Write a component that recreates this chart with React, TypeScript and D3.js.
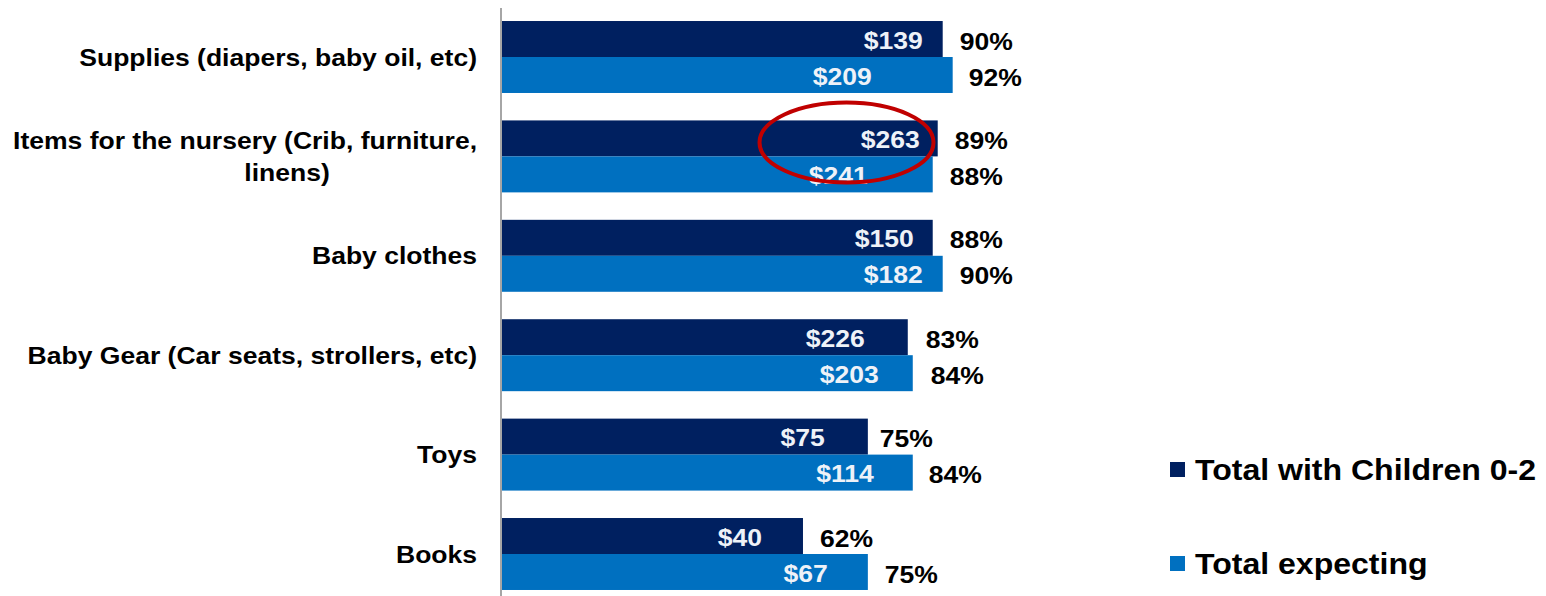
import React from "react";
import * as d3 from "d3";

const categories = [
  ["Supplies (diapers, baby oil, etc)"],
  ["Items for the nursery (Crib, furniture,", "linens)"],
  ["Baby clothes"],
  ["Baby Gear (Car seats, strollers, etc)"],
  ["Toys"],
  ["Books"],
];
const seriesNames = ["Total with Children 0-2", "Total expecting"];
const childrenPct = [90, 89, 88, 83, 75, 62];
const expectingPct = [92, 88, 90, 84, 84, 75];
const childrenSpend = ["$139", "$263", "$150", "$226", "$75", "$40"];
const expectingSpend = ["$209", "$241", "$182", "$203", "$114", "$67"];

// layout tweaks (pixels) for the label placement seen in the reference
const darkInset = [20, 18, 19, 43, 43, 41];
const lightInset = [81, 65, 20, 34, 39, 40];
const darkPctGap = [17, 17, 17, 18, 12, 17];
const lightPctGap = [16, 17, 17, 18, 16, 17];

const W = 1546;
const H = 596;
const DARK = "#002060";
const LIGHT = "#0070C0";
const FONT = "'Liberation Sans', Arial, sans-serif";
const SX = 1.105;

function T(props: {
  x: number;
  y: number;
  anchor: string;
  size: number;
  fill: string;
  children: React.ReactNode;
}) {
  return (
    <text
      transform={`translate(${props.x},${props.y}) scale(${SX},1)`}
      dy="0.355em"
      textAnchor={props.anchor}
      fontWeight="bold"
      fontSize={props.size}
      fill={props.fill}
    >
      {props.children}
    </text>
  );
}

export default function App() {
  const axisX = 501;
  const x = d3.scaleLinear().domain([0, 100]).range([493.6, 992.6]);
  const keys = categories.map((_, i) => String(i));
  const y = d3
    .scaleBand<string>()
    .domain(keys)
    .range([7.3, 603.7])
    .paddingInner(0.276)
    .paddingOuter(0.138);
  const sub = d3.scaleBand<string>().domain(["0", "1"]).range([0, y.bandwidth()]);
  const bh = sub.bandwidth();

  const series = [
    { pct: childrenPct, spend: childrenSpend, color: DARK, inset: darkInset, gap: darkPctGap },
    { pct: expectingPct, spend: expectingSpend, color: LIGHT, inset: lightInset, gap: lightPctGap },
  ];

  return (
    <svg
      width={W}
      height={H}
      style={{ position: "absolute", left: 0, top: 0, background: "#fff" }}
      fontFamily={FONT}
    >
      {keys.map((k, i) => {
        const gy = y(k)!;
        return (
          <g key={k}>
            {series.map((s, si) => {
              const by = gy + sub(String(si))!;
              const xe = x(s.pct[i]);
              return (
                <g key={si}>
                  <rect x={axisX} y={by} width={xe - axisX} height={bh} fill={s.color} />
                  <T x={xe - s.inset[i]} y={by + bh / 2 + 1} anchor="end" size={24} fill="#eef2f8">
                    {s.spend[i]}
                  </T>
                  <T x={xe + s.gap[i]} y={by + bh / 2 + 2} anchor="start" size={24} fill="#000">
                    {s.pct[i] + "%"}
                  </T>
                </g>
              );
            })}
            {categories[i].map((line, li) => {
              const n = categories[i].length;
              const cy = gy + y.bandwidth() / 2 + (li - (n - 1) / 2) * 32;
              const second = n > 1 && li === 1;
              return (
                <T key={li} x={second ? 287 : 477} y={cy} anchor={second ? "middle" : "end"} size={24} fill="#000">
                  {line}
                </T>
              );
            })}
          </g>
        );
      })}
      <line x1={axisX} x2={axisX} y1={8} y2={596} stroke="#a6a6a6" strokeWidth={2} />
      <ellipse cx={846.5} cy={142.5} rx={87} ry={40} fill="none" stroke="#c00000" strokeWidth={4} />
      {seriesNames.map((name, i) => (
        <g key={name}>
          <rect x={1170} y={462 + i * 94} width={15} height={15} fill={i === 0 ? DARK : LIGHT} />
          <T x={1195} y={470 + i * 94} anchor="start" size={29} fill="#000">
            {name}
          </T>
        </g>
      ))}
    </svg>
  );
}
